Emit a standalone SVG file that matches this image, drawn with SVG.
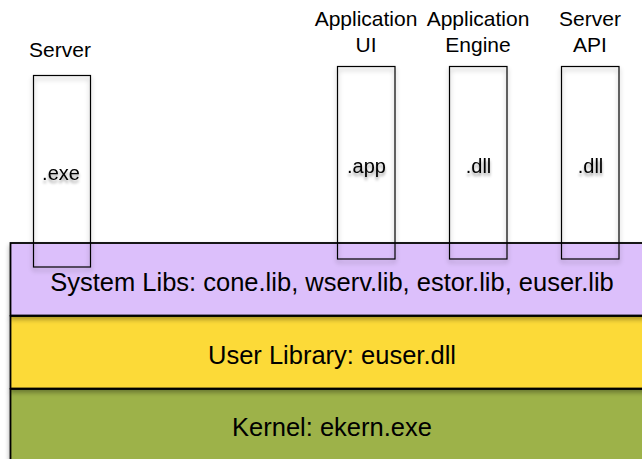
<svg xmlns="http://www.w3.org/2000/svg" width="642" height="459" viewBox="0 0 642 459">
<defs>
<filter id="sh" x="-30%" y="-10%" width="160%" height="130%">
<feGaussianBlur in="SourceAlpha" stdDeviation="2.5"/>
<feOffset dx="0" dy="3" result="b"/>
<feComponentTransfer><feFuncA type="linear" slope="0.35"/></feComponentTransfer>
<feMerge><feMergeNode/><feMergeNode in="SourceGraphic"/></feMerge>
</filter>
<filter id="tsh" x="-20%" y="-30%" width="140%" height="180%">
<feGaussianBlur in="SourceAlpha" stdDeviation="1.5"/>
<feOffset dx="0" dy="3"/>
<feComponentTransfer><feFuncA type="linear" slope="0.4"/></feComponentTransfer>
<feMerge><feMergeNode/><feMergeNode in="SourceGraphic"/></feMerge>
</filter>
</defs>
<style>
text{font-family:"Liberation Sans",Arial,sans-serif;fill:#000;text-anchor:middle}
.lbl{font-size:21px}
.ext{font-size:20px}
.lay{font-size:25.5px}
.box{fill:none;stroke:#000;stroke-width:1.2}
.layer{stroke:#000;stroke-width:1.8}
</style>
<rect width="642" height="459" fill="#fff"/>
<g id="kernel">
<rect class="layer" x="10.5" y="389" width="640" height="80" fill="#9DB24A" filter="url(#sh)"/>
<text class="lay" x="332" y="436">Kernel: ekern.exe</text>
</g>
<g id="userlib">
<rect class="layer" x="10.5" y="316" width="640" height="72.5" fill="#FCDA37" filter="url(#sh)"/>
<text class="lay" x="332" y="364">User Library: euser.dll</text>
</g>
<g id="syslibs">
<rect class="layer" x="10.5" y="243" width="640" height="72.5" fill="#DCBFFB" filter="url(#sh)"/>
<text class="lay" x="332" y="291">System Libs: cone.lib, wserv.lib, estor.lib, euser.lib</text>
</g>
<g id="server">
<text class="lbl" x="60" y="56.5">Server</text>
<rect class="box" x="33.5" y="75.5" width="57" height="191.5" filter="url(#sh)"/>
<text class="ext" x="61" y="180" filter="url(#tsh)">.exe</text>
</g>
<g id="appui">
<text class="lbl" x="366" y="26">Application</text>
<text class="lbl" x="366" y="51.5">UI</text>
<rect class="box" x="337.5" y="66.5" width="57.5" height="192.5" filter="url(#sh)"/>
<text class="ext" x="366.5" y="173" filter="url(#tsh)">.app</text>
</g>
<g id="appengine">
<text class="lbl" x="478" y="26">Application</text>
<text class="lbl" x="478" y="51.5">Engine</text>
<rect class="box" x="449.5" y="66.5" width="57.5" height="192.5" filter="url(#sh)"/>
<text class="ext" x="478.5" y="173" filter="url(#tsh)">.dll</text>
</g>
<g id="serverapi">
<text class="lbl" x="590" y="26">Server</text>
<text class="lbl" x="590" y="51.5">API</text>
<rect class="box" x="561.5" y="66.5" width="57.5" height="192.5" filter="url(#sh)"/>
<text class="ext" x="590.5" y="173" filter="url(#tsh)">.dll</text>
</g>
<g id="connectors"/>
</svg>
